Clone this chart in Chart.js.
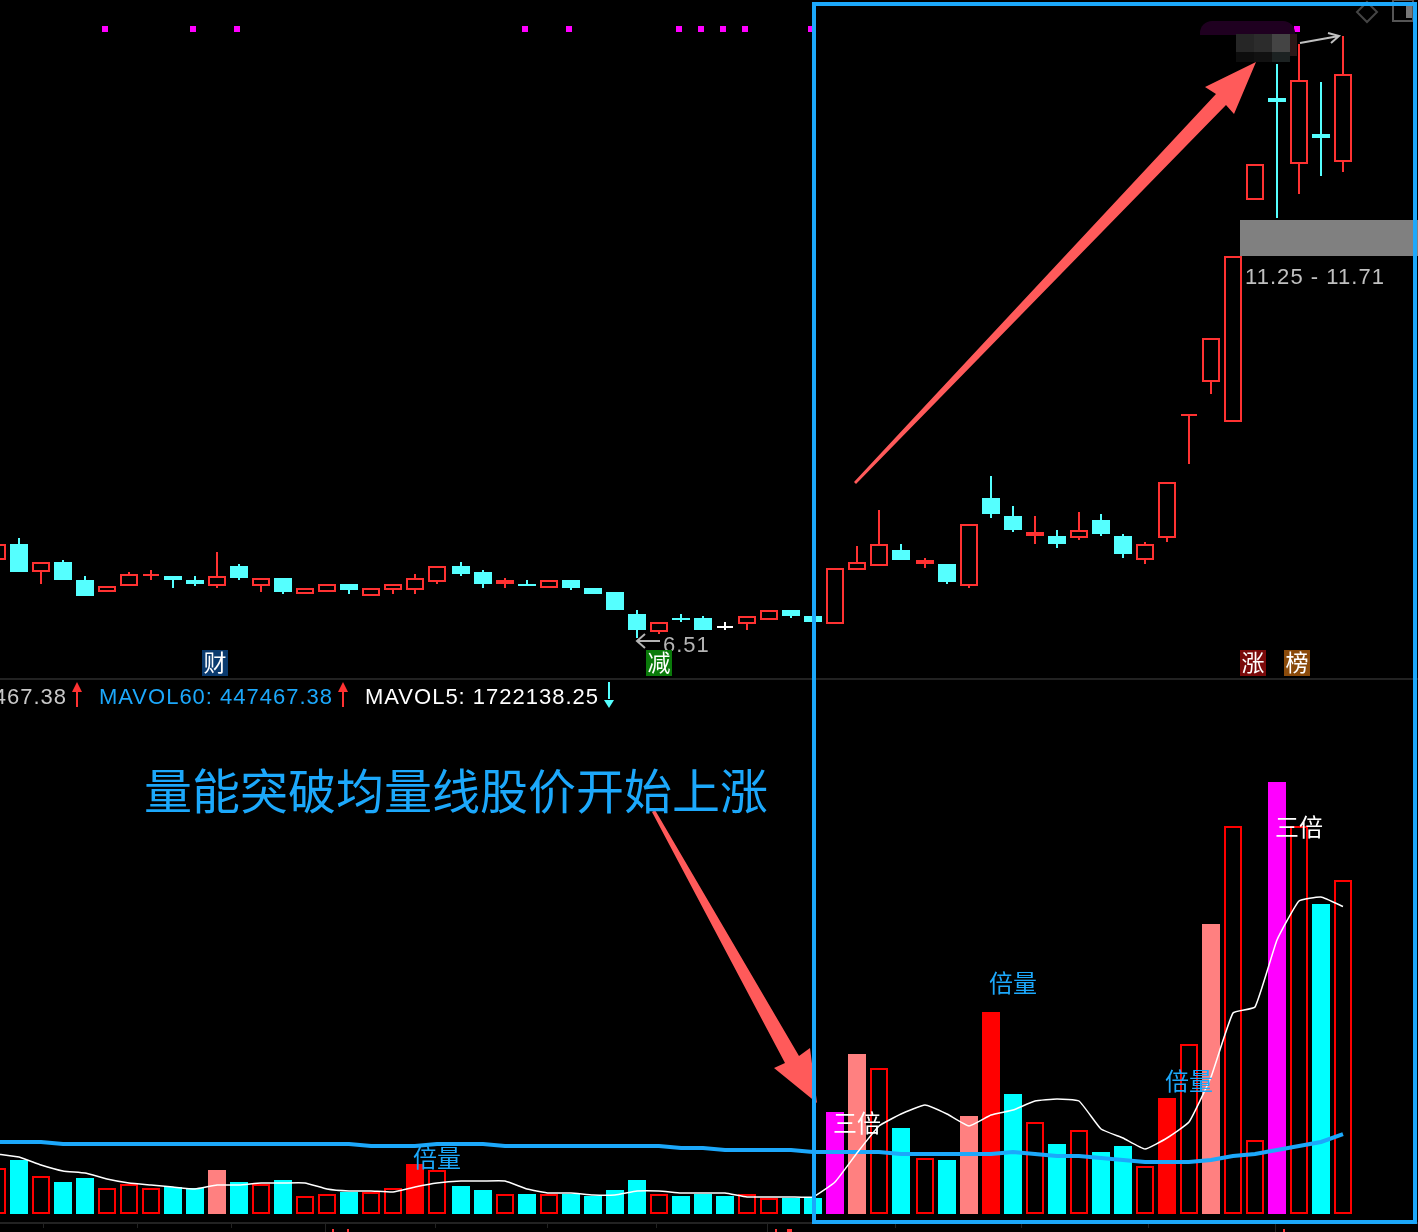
<!DOCTYPE html>
<html>
<head>
<meta charset="utf-8">
<title>量能突破均量线</title>
<style>
html,body{margin:0;padding:0;background:#000;overflow:hidden}
canvas{display:block}
</style>
</head>
<body>
<canvas id="kline" width="1418" height="1232"></canvas>
<script src="https://cdn.jsdelivr.net/npm/chart.js@4/dist/chart.umd.min.js"></script>
<script>
// daily bars, first one is the half cut candle on the left edge
const opens = [7.46,7.66,7.31,7.435,7.21,7.06,7.135,7.26,7.26,7.21,7.135,7.385,7.135,7.235,7.035,7.06,7.16,7.01,7.085,7.085,7.185,7.385,7.31,7.16,7.16,7.11,7.21,7.11,7.06,6.785,6.56,6.735,6.735,6.635,6.66,6.71,6.835,6.76,6.66,7.335,7.385,7.585,7.41,7.41,7.135,8.235,8.01,7.76,7.76,7.735,7.96,7.76,7.46,7.735,9.26,9.685,9.185,11.96,13.235,12.41,12.785,12.435];
const closes = [7.66,7.31,7.435,7.21,7.01,7.135,7.285,7.285,7.21,7.16,7.26,7.235,7.235,7.06,7.11,7.16,7.085,7.11,7.16,7.235,7.385,7.285,7.16,7.21,7.135,7.21,7.11,7.035,6.835,6.585,6.685,6.71,6.585,6.61,6.76,6.835,6.76,6.685,7.36,7.435,7.66,7.46,7.46,7.185,7.91,8.035,7.835,7.81,7.66,7.835,7.785,7.535,7.66,8.435,9.285,10.235,11.26,12.41,13.185,13.46,12.735,13.535];
const highs = [7.66,7.735,7.435,7.46,7.26,7.135,7.31,7.335,7.26,7.26,7.56,7.41,7.235,7.235,7.11,7.16,7.16,7.11,7.16,7.285,7.385,7.435,7.335,7.235,7.21,7.21,7.21,7.11,7.06,6.835,6.685,6.785,6.76,6.685,6.76,6.835,6.835,6.76,7.36,7.635,8.085,7.66,7.485,7.41,7.91,8.51,8.135,8.01,7.835,8.06,8.035,7.785,7.685,8.435,9.285,10.235,11.26,12.41,13.66,13.91,13.435,14.01];
const lows = [7.46,7.31,7.16,7.21,7.01,7.06,7.135,7.21,7.11,7.135,7.11,7.21,7.06,7.035,7.035,7.06,7.035,7.01,7.035,7.035,7.16,7.26,7.11,7.11,7.135,7.11,7.085,7.035,6.835,6.485,6.535,6.685,6.585,6.585,6.585,6.71,6.735,6.685,6.66,7.335,7.385,7.46,7.36,7.16,7.11,7.985,7.81,7.66,7.61,7.71,7.76,7.485,7.41,7.685,8.66,9.535,9.185,11.96,11.735,12.035,12.26,12.31];
const volumes = [257600,302400,212800,179200,201600,145600,168000,145600,151200,145600,246400,179200,168000,190400,100800,112000,123200,123200,145600,280000,246400,156800,134400,112000,112000,112000,112000,100800,134400,190400,112000,100800,112000,100800,112000,89600,89600,89600,571200,896000,817600,481600,313600,302400,548800,1131200,672000,515200,392000,470400,347200,380800,268800,649600,952000,1624000,2172800,414400,2419200,2172800,1736000,1870400];
const mavol5 = [336000,319200,274400,240800,229600,196000,173600,162400,151200,140000,162400,162400,173600,173600,173600,140000,128800,128800,123200,151200,173600,184800,184800,184800,140000,117600,117600,106400,106400,128800,128800,117600,117600,117600,95200,95200,95200,95200,179200,341600,492800,560000,610400,560000,492800,554400,582400,632800,644000,632800,476000,425600,364000,425600,515200,767200,1125600,1159200,1534400,1752800,1775200,1722138];
const mavol60 = [403200,403200,403200,392000,392000,392000,392000,392000,392000,392000,392000,392000,392000,392000,392000,392000,392000,380800,380800,380800,392000,392000,392000,380800,380800,380800,380800,380800,380800,380800,380800,369600,369600,358400,358400,358400,358400,347200,347200,347200,347200,336000,336000,336000,336000,336000,347200,336000,324800,324800,313600,302400,291200,291200,291200,302400,324800,336000,358400,380800,403200,447467];

// marks picked out by bar number (0 = first whole candle)
const signalBars = [4,8,10,23,25,30,31,32,33,36,58];
const flatBars = [6,32,53];
const whiteBars = [32];
const doubleVolBars = [18,44,52];
const pinkVolBars = [9,38,43,54];
const tripleVolBars = [37,57];
const timeTicks = [1.09,5.36,9.64,13.91,18.91,24,28.95,34,39.82,45.55,51.32,57.09];
const longTimeTicks = [13.91,34,57.09];
const signalPrice = 14.0975;

const CANDLE_RED = '#ff3232', CANDLE_CYAN = '#55ffff', VOL_RED = '#ff0000', VOL_CYAN = '#00ffff';
const PINK = '#ff8080', MAGENTA = '#ff00ff', BLUE = '#1ca8fb', ARROW = '#ff5a5a';

// the terminal leaves a 2px gap at two places, so bars are not evenly spaced
function slot(n){ return n + (n >= 41 ? 4 : n >= 20 ? 2 : 0) / 22; }

const barNo = opens.map((_, i) => i - 1);
const isFlat = n => flatBars.includes(n);
const isWhite = n => whiteBars.includes(n);

function wickSet(color, test){
    const data = barNo.filter(test).map(n => ({ x: slot(n), y: [lows[n + 1], highs[n + 1]] }));
    return { type: 'bar', yAxisID: 'price', grouped: false, order: 6, data, backgroundColor: color, borderWidth: 0, inflateAmount: 0, maxBarThickness: 2, barPercentage: 1, categoryPercentage: 1 };
}

function bodySet(width, test){
    const list = barNo.filter(test);
    const colorOf = n => isWhite(n) ? '#ffffff' : closes[n + 1] > opens[n + 1] ? CANDLE_RED : CANDLE_CYAN;
    return {
        type: 'bar', yAxisID: 'price', grouped: false, order: 5,
        data: list.map(n => ({ x: slot(n), y: [opens[n + 1], closes[n + 1]] })),
        backgroundColor: list.map(n => colorOf(n) === CANDLE_RED ? '#000000' : colorOf(n)),
        borderColor: list.map(colorOf),
        borderWidth: list.map(n => colorOf(n) === CANDLE_RED ? 2 : 0),
        borderSkipped: false, inflateAmount: 0, maxBarThickness: width, barPercentage: 1, categoryPercentage: 1
    };
}

function volColor(n){
    if (doubleVolBars.includes(n)) return VOL_RED;
    if (pinkVolBars.includes(n)) return PINK;
    if (tripleVolBars.includes(n)) return MAGENTA;
    return closes[n + 1] > opens[n + 1] ? '#000000' : VOL_CYAN;
}

const datasets = [
    wickSet(CANDLE_RED, n => closes[n + 1] > opens[n + 1]),
    wickSet(CANDLE_CYAN, n => closes[n + 1] <= opens[n + 1] && !isWhite(n)),
    wickSet('#ffffff', isWhite),
    bodySet(18, n => !isFlat(n)),
    bodySet(16, isFlat),
    {
        type: 'bar', yAxisID: 'vol', grouped: false, order: 4,
        data: barNo.map(n => ({ x: slot(n), y: volumes[n + 1] })),
        backgroundColor: barNo.map(volColor),
        borderColor: VOL_RED,
        borderWidth: barNo.map(n => volColor(n) === '#000000' ? 2 : 0),
        borderSkipped: false, inflateAmount: 0, maxBarThickness: 18, barPercentage: 1, categoryPercentage: 1
    },
    {
        type: 'line', yAxisID: 'vol', order: 2, label: 'MAVOL60',
        data: barNo.map(n => ({ x: slot(n), y: mavol60[n + 1] })),
        borderColor: BLUE, borderWidth: 4, pointRadius: 0, tension: 0
    },
    {
        type: 'line', yAxisID: 'vol', order: 1, label: 'MAVOL5',
        data: barNo.map(n => ({ x: slot(n), y: mavol5[n + 1] })),
        borderColor: '#ffffff', borderWidth: 1.5, pointRadius: 0, tension: 0.12
    },
    {
        type: 'line', yAxisID: 'price', order: 3, showLine: false,
        data: signalBars.map(n => ({ x: slot(n) - 2 / 22, y: signalPrice })),
        pointStyle: 'rect', pointRadius: 4.25, pointBorderWidth: 0, pointBackgroundColor: MAGENTA
    }
];

function poly(ctx, pts, color){
    ctx.fillStyle = color;
    ctx.beginPath();
    pts.forEach((p, i) => i ? ctx.lineTo(p[0], p[1]) : ctx.moveTo(p[0], p[1]));
    ctx.closePath();
    ctx.fill();
}

function label(ctx, text, x, y, font, color, spacing, align){
    ctx.font = font;
    ctx.fillStyle = color;
    ctx.letterSpacing = spacing || '0px';
    ctx.textAlign = align || 'left';
    ctx.textBaseline = 'alphabetic';
    ctx.fillText(text, x, y);
}

function chip(ctx, text, x, bg){
    ctx.fillStyle = bg;
    ctx.fillRect(x, 650, 26, 26);
    label(ctx, text, x + 13, 671, '23px "Noto Sans CJK SC"', '#ffffff', '0px', 'center');
}

// grey band, separators and time ticks sit below the bars
const backdrop = {
    id: 'backdrop',
    beforeDatasetsDraw(chart){
        const ctx = chart.ctx, x = chart.scales.x;
        ctx.save();
        ctx.fillStyle = '#222222';
        ctx.fillRect(0, 678, 1418, 2);
        ctx.fillRect(0, 1222, 1418, 2);
        timeTicks.forEach(t => {
            const px = Math.round(x.getPixelForValue(t));
            ctx.fillRect(px, 1224, 1, longTimeTicks.includes(t) ? 8 : 4);
        });
        ctx.restore();
    }
};

const notes = {
    id: 'notes',
    afterDatasetsDraw(chart){
        const ctx = chart.ctx;
        ctx.save();
        // blurred corner
        ctx.fillStyle = '#1f0020';
        ctx.beginPath(); ctx.roundRect(1200, 21, 95, 14, [12, 12, 0, 0]); ctx.fill();
        [['#262626',1236,34],['#2c2c2c',1254,34],['#444444',1272,34],['#0d0d0d',1236,52],['#111111',1254,52],['#1c2222',1272,52]].forEach(c => {
            ctx.fillStyle = c[0]; ctx.fillRect(c[1], c[2], 18, c[2] === 34 ? 18 : 10);
        });
        ctx.fillStyle = '#2a1818'; ctx.fillRect(1290, 34, 7, 22);
        // price range band
        ctx.fillStyle = '#808080'; ctx.fillRect(1240, 220, 178, 36);
        label(ctx, '11.25 - 11.71', 1245, 284, '22px "Liberation Sans"', '#c0c0c0', '1.05px');
        // small grey arrow at the top
        ctx.strokeStyle = '#c0c0c0'; ctx.lineWidth = 2;
        ctx.beginPath(); ctx.moveTo(1300, 43); ctx.lineTo(1339, 36); ctx.moveTo(1328, 33); ctx.lineTo(1339, 36); ctx.lineTo(1331, 43); ctx.stroke();
        // top right icons
        ctx.strokeStyle = '#444444';
        ctx.beginPath(); ctx.moveTo(1367, 2); ctx.lineTo(1377, 12); ctx.lineTo(1367, 22); ctx.lineTo(1357, 12); ctx.closePath(); ctx.stroke();
        ctx.strokeStyle = '#555555';
        ctx.strokeRect(1393, 0, 20, 21);
        ctx.fillStyle = '#777777'; ctx.fillRect(1406, 4, 6, 14);
        // low price flag
        ctx.strokeStyle = '#b4b4b4'; ctx.lineWidth = 2;
        ctx.beginPath(); ctx.moveTo(660, 641); ctx.lineTo(637, 641); ctx.moveTo(645, 634); ctx.lineTo(637, 641); ctx.lineTo(645, 648); ctx.stroke();
        label(ctx, '6.51', 663, 652, '22px "Liberation Sans"', '#b4b4b4', '1px');
        chip(ctx, '财', 202, '#0a3a6e');
        chip(ctx, '减', 646, '#0a7a0a');
        chip(ctx, '涨', 1240, '#7a0a0a');
        chip(ctx, '榜', 1284, '#8a4a0a');
        // indicator readout
        label(ctx, '447467.38', 67, 704, '22px "Liberation Sans"', '#c8c8c8', '1px', 'right');
        label(ctx, 'MAVOL60: 447467.38', 99, 704, '22px "Liberation Sans"', BLUE, '1px');
        label(ctx, 'MAVOL5: 1722138.25', 365, 704, '22px "Liberation Sans"', '#ffffff', '1px');
        [76, 342].forEach(x => {
            ctx.fillStyle = CANDLE_RED; ctx.fillRect(x, 690, 2, 17);
            poly(ctx, [[x + 1, 682], [x + 6, 692], [x - 4, 692]], CANDLE_RED);
        });
        ctx.fillStyle = CANDLE_CYAN; ctx.fillRect(608, 682, 2, 17);
        poly(ctx, [[609, 708], [604, 700], [614, 700]], CANDLE_CYAN);
        // red ticks clipped by the bottom edge
        ctx.fillStyle = CANDLE_RED;
        [[332,1],[347,1],[775,1],[787,4],[1283,1]].forEach(t => ctx.fillRect(t[0], 1229, t[1] + 1, 3));
        // annotation arrows
        poly(ctx, [[854, 482], [1216, 94], [1205, 87], [1256, 62], [1234, 114], [1226, 105], [856, 484]], ARROW);
        poly(ctx, [[652, 812], [785, 1063], [774, 1068], [817, 1103], [810, 1048], [799, 1056], [655, 810]], ARROW);
        // frame
        ctx.strokeStyle = BLUE; ctx.lineWidth = 4;
        ctx.strokeRect(814, 4, 601, 1218);
        // texts
        const cjk = '"Noto Sans CJK SC"';
        label(ctx, '量能突破均量线股价开始上涨', 144, 809, `48px ${cjk}`, BLUE);
        label(ctx, '倍量', 413, 1167, `24px ${cjk}`, BLUE);
        label(ctx, '倍量', 989, 992, `24px ${cjk}`, BLUE);
        label(ctx, '倍量', 1165, 1090, `24px ${cjk}`, BLUE);
        label(ctx, '三倍', 833, 1132, `24px ${cjk}`, '#ffffff');
        label(ctx, '三倍', 1275, 836, `24px ${cjk}`, '#ffffff');
        ctx.restore();
    }
};

document.addEventListener('DOMContentLoaded', () => {
    new Chart(document.getElementById('kline'), {
        data: { datasets },
        options: {
            responsive: false, animation: false, events: [],
            layout: { padding: 0, autoPadding: false },
            plugins: { legend: { display: false }, tooltip: { enabled: false } },
            scales: {
                x: { type: 'linear', display: false, min: -19 / 22, max: 1399 / 22, offset: false },
                price: { type: 'linear', display: false, min: -0.94, max: 14.46 },
                vol: { type: 'linear', display: false, min: -100800, max: 6798400 }
            }
        },
        plugins: [backdrop, notes]
    });
});
</script>
</body>
</html>
